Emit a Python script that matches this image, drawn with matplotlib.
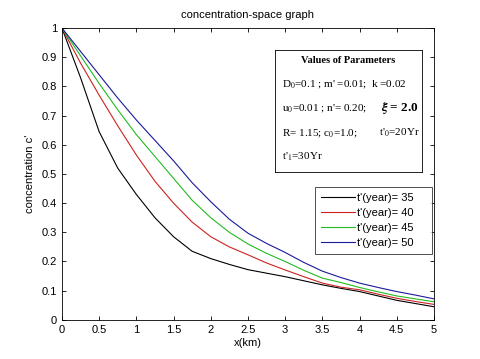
import numpy as np
import matplotlib
matplotlib.use("Agg")
import matplotlib.pyplot as plt

# distance along x (km)
x_km = [0, 0.25, 0.5, 0.75, 1.0, 1.25, 1.5, 1.75, 2.0, 2.25, 2.5,
        2.75, 3.0, 3.25, 3.5, 3.75, 4.0, 4.25, 4.5, 4.75, 5.0]

# concentration c' for each t'(year)
c_35 = [1.0, 0.83, 0.645, 0.52, 0.43, 0.35, 0.285, 0.235, 0.21, 0.19, 0.172,
        0.16, 0.148, 0.134, 0.12, 0.108, 0.097, 0.082, 0.067, 0.056, 0.045]
c_40 = [1.0, 0.88, 0.77, 0.665, 0.565, 0.475, 0.40, 0.335, 0.285, 0.25, 0.223,
        0.195, 0.171, 0.148, 0.126, 0.112, 0.103, 0.088, 0.074, 0.063, 0.053]
c_45 = [1.0, 0.905, 0.81, 0.72, 0.635, 0.56, 0.485, 0.41, 0.35, 0.30, 0.26,
        0.228, 0.20, 0.17, 0.143, 0.128, 0.111, 0.096, 0.082, 0.072, 0.062]
c_50 = [1.0, 0.92, 0.84, 0.76, 0.685, 0.615, 0.545, 0.47, 0.405, 0.345, 0.297,
        0.262, 0.231, 0.197, 0.167, 0.145, 0.126, 0.111, 0.097, 0.085, 0.072]

series = [(c_35, "35", "k"), (c_40, "40", "#cc2222"),
          (c_45, "45", "#22bb22"), (c_50, "50", "#1a1a9a")]

plt.rcParams['font.family'] = ['Liberation Sans', 'DejaVu Sans']
plt.rcParams['mathtext.fontset'] = 'stix'

fig = plt.figure(figsize=(4.8, 3.59), dpi=100)
ax = fig.add_axes([0.129, 0.109, 0.775, 0.813])

for vals, yr, col in series:
    ax.plot(x_km, vals, color=col, lw=0.8, label=f"t'(year)= {yr}    ")

ax.set_xlim(0, 5)
ax.set_ylim(0, 1)
ax.set_xticks(np.arange(0, 5.01, 0.5))
ax.set_yticks(np.arange(0, 1.01, 0.1))
ax.set_xticklabels(["0", "0.5", "1", "1.5", "2", "2.5", "3", "3.5", "4", "4.5", "5"])
ax.set_yticklabels(["0", "0.1", "0.2", "0.3", "0.4", "0.5", "0.6", "0.7", "0.8", "0.9", "1"])
ax.tick_params(direction='in', top=True, right=True, labelsize=8, length=3, width=0.6)
for sp in ax.spines.values():
    sp.set_linewidth(0.6)

ax.set_title("concentration-space graph", fontsize=8, pad=7)
ax.set_xlabel("x(km)", fontsize=8, labelpad=2)
ax.set_ylabel("concentration c'", fontsize=8, labelpad=5)

leg = ax.legend(loc='upper right', bbox_to_anchor=(0.9, 0.479),
                bbox_transform=fig.transFigure, fontsize=8,
                frameon=True, fancybox=False, edgecolor='k', handlelength=3.0,
                handletextpad=0.2, borderpad=0.55, labelspacing=0.45,
                borderaxespad=0)
leg.get_frame().set_linewidth(0.6)

# parameter box
bx = ax.inset_axes([0.573, 0.508, 0.395, 0.417])
bx.set_xticks([])
bx.set_yticks([])
for sp in bx.spines.values():
    sp.set_linewidth(0.6)
serif = ['Liberation Serif', 'DejaVu Serif']
bx.text(0.5, 0.91, "Values of Parameters", ha='center', va='center',
        fontsize=7.5, fontweight='bold', family=serif)
bx.text(0.048, 0.72, r"D$_0$=0.1 ; m' =0.01;  k =0.02", va='center', fontsize=8, family=serif)
bx.text(0.048, 0.525, r"u$_0$=0.01 ; n'= 0.20;", va='center', fontsize=8, family=serif)
bx.text(0.72, 0.525, r"$\boldsymbol{\xi}$ = 2.0", va='center', fontsize=9.5,
        fontweight='bold', family=serif)
bx.text(0.048, 0.32, r"R= 1.15; c$_0$=1.0;", va='center', fontsize=8, family=serif)
bx.text(0.71, 0.32, r"t'$_0$=20Yr", va='center', fontsize=8, family=serif)
bx.text(0.048, 0.123, r"t'$_1$=30Yr", va='center', fontsize=8, family=serif)

fig.savefig("out.png", dpi=100)
